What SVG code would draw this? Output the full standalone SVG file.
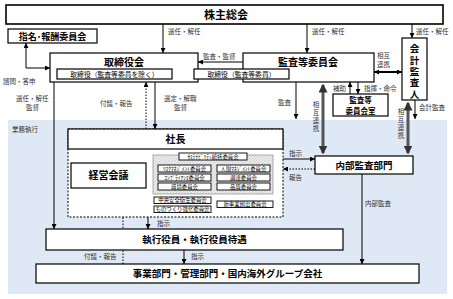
<svg xmlns="http://www.w3.org/2000/svg" width="453" height="299" viewBox="0 0 453 299">
<defs>
<marker id="ah" viewBox="0 0 6 6" refX="6" refY="3" markerWidth="5" markerHeight="5" orient="auto-start-reverse" markerUnits="userSpaceOnUse"><path d="M0,0 L6,3 L0,6 z" fill="#000"/></marker>
<marker id="ahg" viewBox="0 0 6 6" refX="5" refY="3" markerWidth="3" markerHeight="3" orient="auto-start-reverse"><path d="M0,0 L6,3 L0,6 z" fill="#333"/></marker>
<pattern id="hatch" width="3" height="3" patternUnits="userSpaceOnUse"><rect width="3" height="3" fill="#ececec"/><path d="M0,3 L3,0" stroke="#bdbdbd" stroke-width="0.6"/></pattern>
<style>
.box{fill:#fff;stroke:#000;stroke-width:1.2}
.t{font-family:"Noto Sans CJK JP","Noto Sans",sans-serif;fill:#000;text-anchor:middle}
.b{font-weight:bold}
.lbl{font-family:"Noto Sans CJK JP","Noto Sans",sans-serif;font-size:6.5px;fill:#333}
.v{writing-mode:vertical-rl;letter-spacing:1.5px}
.c{font-size:5.4px}
.ln{stroke:#000;stroke-width:1;fill:none}
.dot{stroke:#000;stroke-width:1;stroke-dasharray:1.5,1.5;fill:none}
.thick{stroke:#555;stroke-width:3;fill:none}
.cb{fill:#fff;stroke:#000;stroke-width:0.9}
</style>
</defs>
<rect x="0" y="0" width="453" height="299" fill="#fff"/>
<rect x="8" y="120" width="439" height="174" fill="#dfe9f5"/>
<text class="lbl" x="12" y="132" font-size="7">業務執行</text>

<g id="connectors">
<line class="ln" x1="163" y1="24" x2="163" y2="53" marker-end="url(#ah)"/>
<line class="ln" x1="307" y1="24" x2="307" y2="53" marker-end="url(#ah)"/>
<line class="ln" x1="412" y1="24" x2="412" y2="38" marker-end="url(#ah)"/>
<line class="ln" x1="243" y1="62" x2="198" y2="62" marker-end="url(#ah)"/>
<path class="ln" d="M26,43 V68 H50" marker-start="url(#ah)" marker-end="url(#ah)"/>
<line x1="374" y1="72" x2="402" y2="72" stroke="#000" stroke-width="2" marker-start="url(#ah)" marker-end="url(#ah)"/>
<line class="ln" x1="350" y1="94" x2="350" y2="82" marker-end="url(#ah)"/>
<line class="ln" x1="358" y1="82" x2="358" y2="94" marker-end="url(#ah)"/>
<line class="ln" x1="296" y1="82" x2="296" y2="119" marker-end="url(#ah)"/>
<line class="ln" x1="415" y1="100" x2="415" y2="119" marker-end="url(#ah)"/>
<line class="thick" x1="323" y1="85" x2="323" y2="153" marker-start="url(#ahg)" marker-end="url(#ahg)"/>
<line class="thick" x1="408" y1="103" x2="408" y2="153" marker-start="url(#ahg)" marker-end="url(#ahg)"/>
<line class="ln" x1="54" y1="82" x2="54" y2="229" marker-end="url(#ah)"/>
<line class="ln" x1="155" y1="82" x2="155" y2="129" marker-end="url(#ah)"/>
<line class="dot" x1="146" y1="129" x2="146" y2="82" marker-end="url(#ah)"/>
<line class="ln" x1="148" y1="149" x2="148" y2="229" marker-end="url(#ah)"/>
<line class="dot" x1="123" y1="264" x2="123" y2="188" marker-end="url(#ah)"/>
<line class="ln" x1="184" y1="250" x2="184" y2="264" marker-end="url(#ah)"/>
<line class="ln" x1="283" y1="159" x2="315" y2="159" marker-end="url(#ah)"/>
<line class="dot" x1="315" y1="169" x2="283" y2="169" marker-end="url(#ah)"/>
<line class="ln" x1="362" y1="174" x2="362" y2="264" marker-end="url(#ah)"/>

<text class="lbl" x="168" y="34">選任・解任</text>
<text class="lbl" x="312" y="34">選任・解任</text>
<text class="lbl" x="416" y="34">選任・解任</text>
<text class="lbl" x="203" y="59">監査・監督</text>
<text class="lbl" x="377" y="58">相互</text>
<text class="lbl" x="377" y="67">連携</text>
<text class="lbl" x="3" y="84">諮問・答申</text>
<text class="lbl" x="333" y="91">補助</text>
<text class="lbl" x="364" y="91">指揮・命令</text>
<text class="lbl" x="278" y="105">監査</text>
<text class="lbl" x="419" y="110">会計監査</text>
<text class="lbl" x="16" y="101">選任・解任</text>
<text class="lbl" x="26" y="110">監督</text>
<text class="lbl" x="100" y="106">付議・報告</text>
<text class="lbl" x="164" y="101">選定・解職</text>
<text class="lbl" x="174" y="110">監督</text>
<text class="lbl v" x="316" y="101.5">相互連携</text>
<text class="lbl v" x="401" y="108.5">相互連携</text>
<text class="lbl" x="289" y="156">指示</text>
<text class="lbl" x="289" y="180">報告</text>
<text class="lbl" x="365" y="206">内部監査</text>
<text class="lbl" x="157" y="226">指示</text>
<text class="lbl" x="84" y="259">付議・報告</text>
<text class="lbl" x="191" y="259">指示</text>
</g>

<g id="shareholders">
<rect x="6" y="5" width="437" height="19" fill="#fff" stroke="#000" stroke-width="1.6"/>
<text class="t b" x="226" y="19" font-size="11">株主総会</text>
</g>
<g id="nomination">
<rect class="box" x="8" y="29" width="89" height="14"/>
<text class="t b" x="52.5" y="40" font-size="9">指名･報酬委員会</text>
</g>
<g id="board">
<rect class="box" x="50" y="53" width="148" height="29"/>
<text class="t b" x="124" y="66" font-size="10">取締役会</text>
</g>
<g id="audit-committee">
<rect class="box" x="243" y="53" width="131" height="29"/>
<text class="t b" x="308" y="66" font-size="10">監査等委員会</text>
</g>
<g id="director-sub1">
<rect class="box" x="57" y="69" width="115" height="10" stroke-width="0.9"/>
<text class="t" x="114.5" y="77" font-size="6.8">取締役（監査等委員を除く）</text>
</g>
<g id="director-sub2">
<rect class="box" x="194" y="69" width="95" height="10" stroke-width="0.9"/>
<text class="t" x="241.5" y="77" font-size="6.8">取締役（監査等委員）</text>
</g>
<g id="accounting-auditor">
<rect class="box" x="402" y="38" width="25" height="62"/>
<text class="b" x="414.5" y="44" font-size="9.5" style="font-family:'Noto Sans CJK JP','Noto Sans',sans-serif;writing-mode:vertical-rl;letter-spacing:1.8px">会計監査人</text>
</g>
<g id="audit-office">
<rect class="box" x="333" y="94" width="55" height="22"/>
<text class="t b" x="360.5" y="102.6" font-size="7.5">監査等</text>
<text class="t b" x="360.5" y="113.5" font-size="7.5">委員会室</text>
</g>
<g id="president">
<rect x="68" y="129" width="215" height="88" fill="#fff" stroke="#000" stroke-width="1" stroke-dasharray="2,1.5"/>
<rect class="box" x="68" y="129" width="215" height="20"/>
<text class="t b" x="175.5" y="143" font-size="10">社長</text>
</g>
<g id="management-meeting">
<rect class="box" x="71" y="163" width="75" height="25"/>
<text class="t b" x="108.5" y="179" font-size="10">経営会議</text>
</g>
<g id="committees">
<rect x="153" y="155" width="120" height="39" fill="url(#hatch)" stroke="#999" stroke-width="0.8"/>
<rect class="cb" x="179" y="153" width="68" height="7"/>
<text class="t c" x="213" y="158.7">ｻｽﾃﾅﾋﾞﾘﾃｨ統括委員会</text>
<rect class="cb" x="158" y="165" width="53" height="7"/>
<text class="t c" x="184.5" y="170.7">ﾘｽｸﾏﾈｼﾞﾒﾝﾄ委員会</text>
<rect class="cb" x="217" y="165" width="53" height="7"/>
<text class="t c" x="243.5" y="170.7">人財ﾏﾈｼﾞﾒﾝﾄ委員会</text>
<rect class="cb" x="158" y="174" width="53" height="7"/>
<text class="t c" x="184.5" y="179.7">ｺﾝﾌﾟﾗｲｱﾝｽ委員会</text>
<rect class="cb" x="217" y="174" width="53" height="7"/>
<text class="t c" x="243.5" y="179.7">調達委員会</text>
<rect class="cb" x="158" y="183" width="53" height="7"/>
<text class="t c" x="184.5" y="188.7">環境委員会</text>
<rect class="cb" x="217" y="183" width="53" height="7"/>
<text class="t c" x="243.5" y="188.7">品質委員会</text>
<rect class="cb" x="154" y="197" width="57" height="6.5"/>
<text class="t c" x="182.5" y="202.4">中央安全衛生委員会</text>
<rect class="cb" x="154" y="206" width="57" height="6.5"/>
<text class="t c" x="182.5" y="211.4">ものづくり強化委員会</text>
<rect class="cb" x="217" y="201" width="56" height="6.5"/>
<text class="t c" x="245" y="206.4">新事業創出委員会</text>
</g>
<g id="internal-audit">
<rect class="box" x="315" y="156" width="98" height="18"/>
<text class="t b" x="364" y="168.5" font-size="9.5">内部監査部門</text>
</g>
<g id="executive-officers">
<rect class="box" x="46" y="229" width="297" height="21"/>
<text class="t b" x="194.5" y="243" font-size="9.5">執行役員・執行役員待遇</text>
</g>
<g id="business-units">
<rect class="box" x="36" y="264" width="383" height="19"/>
<text class="t b" x="227.5" y="277" font-size="9.5">事業部門・管理部門・国内海外グループ会社</text>
</g>
</svg>
